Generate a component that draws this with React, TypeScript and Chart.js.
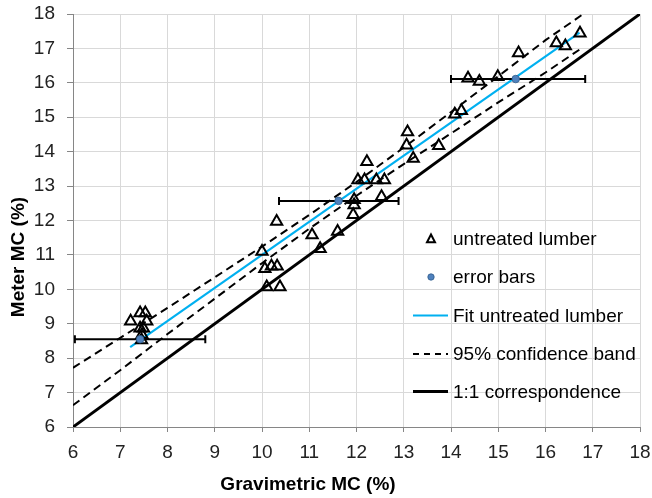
import React, { useEffect, useRef } from "react";
import { Chart, registerables } from "chart.js";

Chart.register(...registerables);

// Untreated lumber measurements (gravimetric MC %, meter MC %)
const lumberX = [
  7.22, 7.42, 7.53, 7.56, 7.42, 7.49, 7.46, 7.45,
  10.0, 10.06, 10.2, 10.32, 10.1, 10.38, 10.31,
  11.06, 11.23, 11.6,
  11.95, 11.95, 11.93, 12.53,
  12.03, 12.17, 12.42, 12.59, 12.22,
  13.08, 13.06, 13.2, 13.74,
  14.08, 14.22,
  14.36, 14.6, 14.99, 15.43, 16.23, 16.42, 16.73,
];
const lumberY = [
  9.07, 9.31, 9.31, 9.07, 8.87, 8.87, 8.68, 8.53,
  11.1, 10.6, 10.67, 10.67, 10.07, 10.07, 11.97,
  11.58, 11.18, 11.68,
  12.6, 12.45, 12.17, 12.69,
  13.18, 13.18, 13.18, 13.18, 13.71,
  14.57, 14.19, 13.8, 14.17,
  15.09, 15.19,
  16.13, 16.04, 16.18, 16.87, 17.16, 17.07, 17.44,
];

// Fit line
const fitX = [7.21, 16.72];
const fitY = [8.32, 17.46];

// 95% confidence band
const bandX = [6, 7, 8, 9, 10, 11, 12, 13, 14, 15, 16, 16.8];
const bandUpper = [7.72, 8.59, 9.46, 10.35, 11.24, 12.16, 13.12, 14.12, 15.15, 16.19, 17.24, 18.0];
const bandLower = [6.63, 7.65, 8.7, 9.73, 10.76, 11.76, 12.72, 13.64, 14.53, 15.43, 16.3, 17.04];

// 1:1 correspondence
const oneX = [6, 18];
const oneY = [6, 18];

// Error bars (horizontal)
const errX = [7.42, 11.62, 15.37];
const errY = [8.55, 12.57, 16.11];
const errMinus = [1.38, 1.26, 1.37];
const errPlus = [1.38, 1.27, 1.47];

const axisMin = 6;
const axisMax = 18;
const legendLabels = [
  "untreated lumber",
  "error bars",
  "Fit untreated lumber",
  "95% confidence band",
  "1:1 correspondence",
];
const xTitle = "Gravimetric MC (%)";
const yTitle = "Meter MC (%)";

const FONT = "'Liberation Sans', Arial, sans-serif";
const FIT_COLOR = "#00B0F0";
const DOT_COLOR = "#4F81BD";
const DOT_BORDER = "#2E5C8A";

const pts = (xs: number[], ys: number[]) => xs.map((x, i) => ({ x, y: ys[i] }));

const errorBarPlugin = {
  id: "errorBars",
  beforeDatasetDraw(chart: any, args: any) {
    if (args.index !== 0) return;
    const { ctx, scales } = chart;
    const xs = scales.x;
    const ys = scales.y;
    ctx.save();
    ctx.strokeStyle = "#000";
    ctx.lineWidth = 2;
    for (let i = 0; i < errX.length; i++) {
      const x0 = xs.getPixelForValue(errX[i] - errMinus[i]);
      const x1 = xs.getPixelForValue(errX[i] + errPlus[i]);
      const y = ys.getPixelForValue(errY[i]);
      ctx.beginPath();
      ctx.moveTo(x0, y);
      ctx.lineTo(x1, y);
      ctx.moveTo(x0, y - 4);
      ctx.lineTo(x0, y + 4);
      ctx.moveTo(x1, y - 4);
      ctx.lineTo(x1, y + 4);
      ctx.stroke();
    }
    ctx.restore();
  },
};

const annotationsPlugin = {
  id: "legendAndTitles",
  afterDraw(chart: any) {
    const { ctx } = chart;
    ctx.save();
    // Axis titles
    ctx.fillStyle = "#000";
    ctx.font = `bold 19px ${FONT}`;
    ctx.textAlign = "center";
    ctx.textBaseline = "middle";
    ctx.fillText(xTitle, 308, 485);
    ctx.save();
    ctx.translate(19, 257);
    ctx.rotate(-Math.PI / 2);
    ctx.fillText(yTitle, 0, 0);
    ctx.restore();

    // Legend
    const rows = [239, 277, 315.5, 354, 391.5];
    const textX = 453;
    const lx0 = 413;
    const lx1 = 448;
    ctx.font = `19px ${FONT}`;
    ctx.textAlign = "left";
    ctx.fillStyle = "#000";
    legendLabels.forEach((lab, i) => ctx.fillText(lab, textX, rows[i] + 1));

    // triangle
    ctx.strokeStyle = "#000";
    ctx.lineWidth = 2;
    const tx = 431;
    const ty = rows[0];
    ctx.beginPath();
    ctx.moveTo(tx, ty - 4.5);
    ctx.lineTo(tx + 4, ty + 3.2);
    ctx.lineTo(tx - 4, ty + 3.2);
    ctx.closePath();
    ctx.stroke();
    // dot
    ctx.beginPath();
    ctx.arc(431, rows[1], 3.2, 0, Math.PI * 2);
    ctx.fillStyle = DOT_COLOR;
    ctx.fill();
    ctx.lineWidth = 0.8;
    ctx.strokeStyle = DOT_BORDER;
    ctx.stroke();
    // fit line
    ctx.beginPath();
    ctx.strokeStyle = FIT_COLOR;
    ctx.lineWidth = 2;
    ctx.moveTo(lx0, rows[2]);
    ctx.lineTo(lx1, rows[2]);
    ctx.stroke();
    // dashed
    ctx.beginPath();
    ctx.strokeStyle = "#000";
    ctx.lineWidth = 2;
    ctx.setLineDash([6, 5]);
    ctx.moveTo(lx0, rows[3]);
    ctx.lineTo(lx1, rows[3]);
    ctx.stroke();
    ctx.setLineDash([]);
    // thick
    ctx.beginPath();
    ctx.lineWidth = 3;
    ctx.moveTo(lx0, rows[4]);
    ctx.lineTo(lx1, rows[4]);
    ctx.stroke();
    ctx.restore();
  },
};

export default function App() {
  const canvasRef = useRef<HTMLCanvasElement | null>(null);

  useEffect(() => {
    if (!canvasRef.current) return;
    Chart.defaults.font.family = FONT;
    const chart = new Chart(canvasRef.current, {
      type: "scatter",
      data: {
        datasets: [
          {
            label: legendLabels[1],
            data: pts(errX, errY),
            pointStyle: "circle",
            pointRadius: 3.8,
            pointBackgroundColor: DOT_COLOR,
            pointBorderColor: DOT_BORDER,
            pointBorderWidth: 0.8,
            showLine: false,
          },
          {
            label: legendLabels[0],
            data: pts(lumberX, lumberY),
            pointStyle: "triangle",
            pointRadius: 6.5,
            pointBackgroundColor: "rgba(0,0,0,0)",
            pointBorderColor: "#000",
            pointBorderWidth: 2,
            showLine: false,
          },
          {
            label: legendLabels[2],
            data: pts(fitX, fitY),
            showLine: true,
            borderColor: FIT_COLOR,
            borderWidth: 2.2,
            pointRadius: 0,
          },
          {
            label: legendLabels[3],
            data: pts(bandX, bandUpper),
            showLine: true,
            borderColor: "#000",
            borderWidth: 2,
            borderDash: [8, 5],
            pointRadius: 0,
          },
          {
            label: legendLabels[3],
            data: pts(bandX, bandLower),
            showLine: true,
            borderColor: "#000",
            borderWidth: 2,
            borderDash: [8, 5],
            pointRadius: 0,
          },
          {
            label: legendLabels[4],
            data: pts(oneX, oneY),
            showLine: true,
            borderColor: "#000",
            borderWidth: 3,
            pointRadius: 0,
          },
        ],
      },
      options: {
        responsive: false,
        animation: false,
        layout: { autoPadding: false, padding: { top: 14, right: 12, left: 0, bottom: 0 } },
        plugins: {
          legend: { display: false },
          tooltip: { enabled: false },
          title: { display: false },
        },
        scales: {
          x: {
            type: "linear",
            min: axisMin,
            max: axisMax,
            afterFit: (s: any) => {
              s.height = 71;
              s.paddingLeft = 0;
              s.paddingRight = 0;
            },
            ticks: {
              stepSize: 1,
              color: "#222",
              font: { size: 19, family: FONT },
              padding: 9,
              maxRotation: 0,
            },
            grid: {
              color: "#D9D9D9",
              lineWidth: 1,
              tickLength: 5,
              tickColor: "#868686",
            },
            border: { color: "#868686", width: 1 },
          },
          y: {
            type: "linear",
            min: axisMin,
            max: axisMax,
            afterFit: (s: any) => {
              s.width = 73;
              s.paddingTop = 0;
              s.paddingBottom = 0;
            },
            ticks: {
              stepSize: 1,
              color: "#222",
              font: { size: 19, family: FONT },
              padding: 12,
            },
            grid: {
              color: "#D9D9D9",
              lineWidth: 1,
              tickLength: 6,
              tickColor: "#868686",
            },
            border: { color: "#868686", width: 1 },
          },
        },
      },
      plugins: [errorBarPlugin, annotationsPlugin],
    } as any);
    return () => chart.destroy();
  }, []);

  return (
    <div style={{ position: "fixed", left: 0, top: 0, width: 652, height: 498, background: "#fff" }}>
      <canvas ref={canvasRef} width={652} height={498} style={{ width: 652, height: 498, display: "block" }} />
    </div>
  );
}
